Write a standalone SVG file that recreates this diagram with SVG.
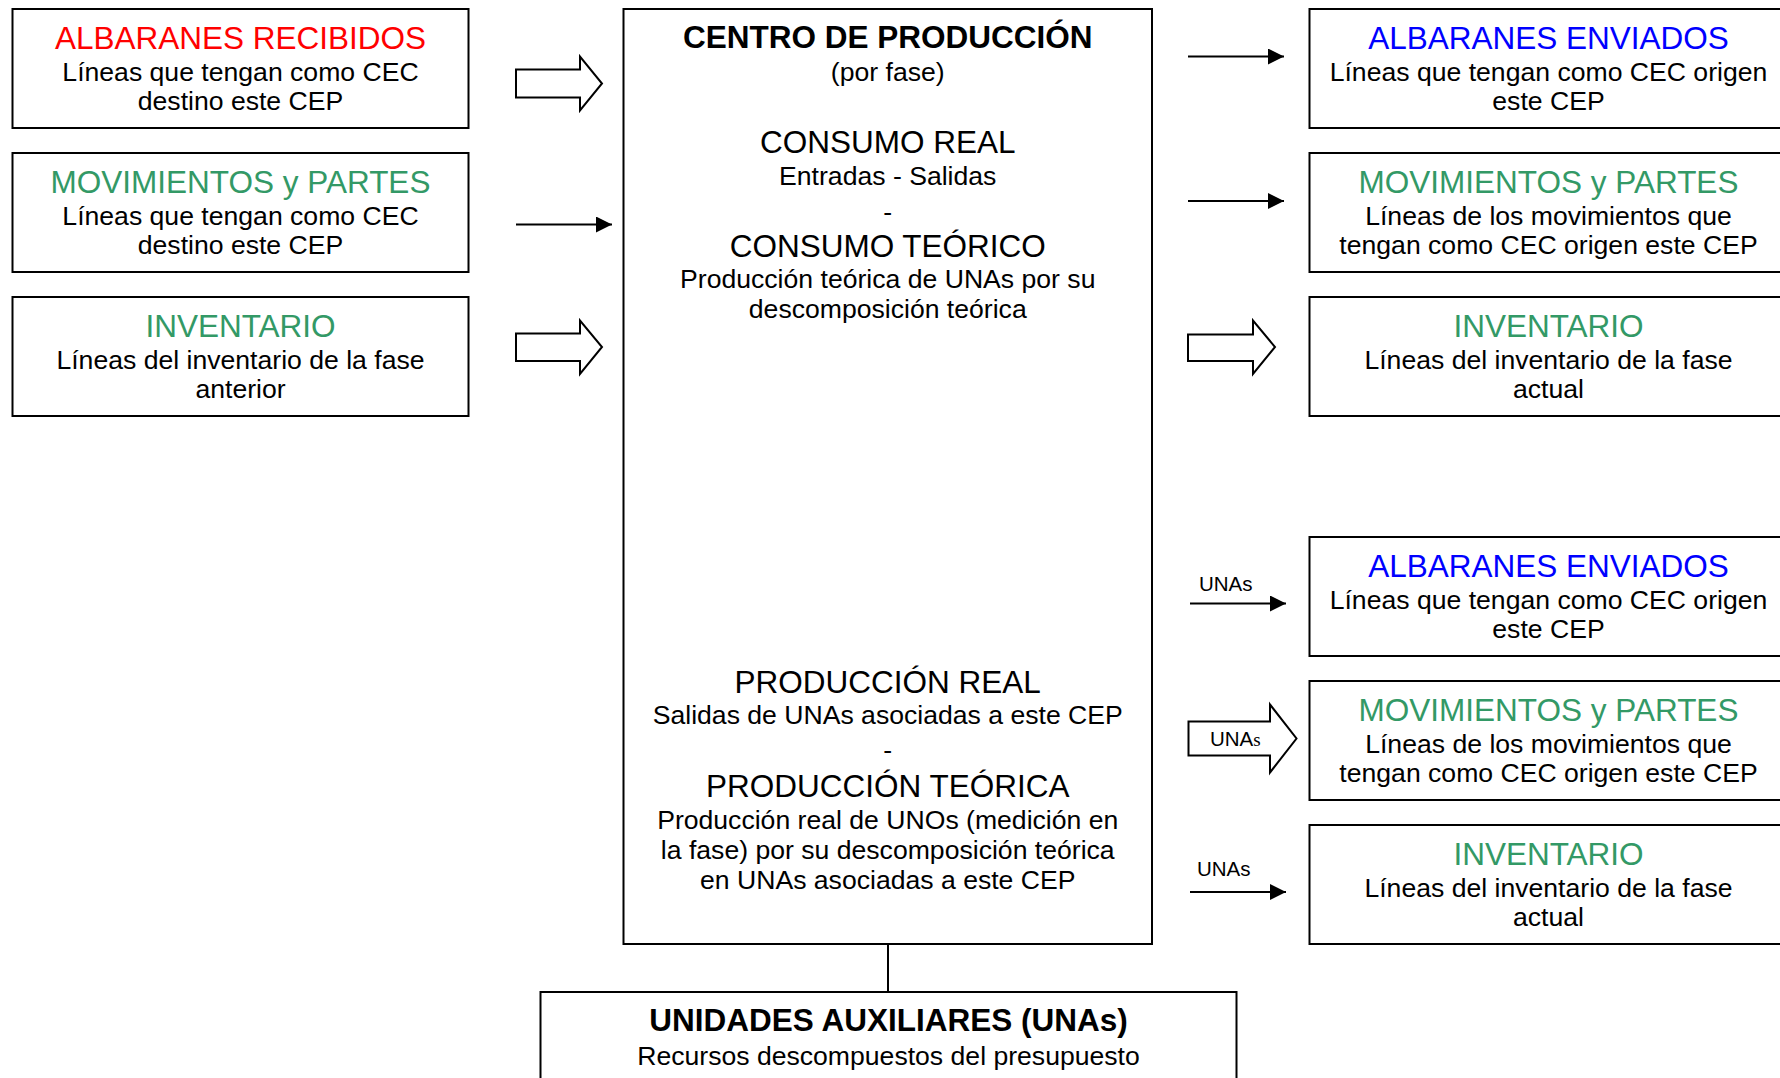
<svg xmlns="http://www.w3.org/2000/svg" width="1780" height="1078" viewBox="0 0 1780 1078">
<defs>
<style>
text{font-family:"Liberation Sans",Arial,sans-serif;text-anchor:middle;fill:#000}
.box{fill:#fff;stroke:#000;stroke-width:2}
.t{font-size:31.5px}
.b{font-size:26.6px}
.bold{font-weight:bold}
.red{fill:#ff0000}
.green{fill:#339966}
.blue{fill:#0000ff}
.lbl{font-size:20.5px;text-anchor:start}
.blk{fill:#fff;stroke:#000;stroke-width:2;stroke-linejoin:miter}
.ln{stroke:#000;stroke-width:2;fill:none}
</style>
<marker id="ah" markerWidth="8" markerHeight="8" refX="8" refY="4" orient="auto" markerUnits="strokeWidth">
<path d="M0,0 L8,4 L0,8 Z" fill="#000"/>
</marker>
</defs>
<rect width="1780" height="1078" fill="#fff"/>

<g id="albaranes-recibidos">
<rect class="box" x="12.5" y="9" width="456" height="119"/>
<text class="t red" x="240.5" y="49">ALBARANES RECIBIDOS</text>
<text class="b" x="240.5" y="81">Líneas que tengan como CEC</text>
<text class="b" x="240.5" y="110">destino este CEP</text>
</g>
<g id="movimientos-entrada">
<rect class="box" x="12.5" y="153" width="456" height="119"/>
<text class="t green" x="240.5" y="193">MOVIMIENTOS y PARTES</text>
<text class="b" x="240.5" y="225">Líneas que tengan como CEC</text>
<text class="b" x="240.5" y="254">destino este CEP</text>
</g>
<g id="inventario-anterior">
<rect class="box" x="12.5" y="297" width="456" height="119"/>
<text class="t green" x="240.5" y="337">INVENTARIO</text>
<text class="b" x="240.5" y="369">Líneas del inventario de la fase</text>
<text class="b" x="240.5" y="398">anterior</text>
</g>

<g id="centro-produccion">
<rect class="box" x="623.5" y="9" width="528.5" height="935"/>
<text class="t bold" x="887.75" y="48">CENTRO DE PRODUCCIÓN</text>
<text class="b" x="887.75" y="81">(por fase)</text>
<text class="t" x="887.75" y="153">CONSUMO REAL</text>
<text class="b" x="887.75" y="185">Entradas - Salidas</text>
<text class="b" x="887.75" y="221">-</text>
<text class="t" x="887.75" y="257">CONSUMO TEÓRICO</text>
<text class="b" x="887.75" y="288">Producción teórica de UNAs por su</text>
<text class="b" x="887.75" y="318">descomposición teórica</text>
<text class="t" x="887.75" y="693">PRODUCCIÓN REAL</text>
<text class="b" x="887.75" y="724">Salidas de UNAs asociadas a este CEP</text>
<text class="b" x="887.75" y="759">-</text>
<text class="t" x="887.75" y="797">PRODUCCIÓN TEÓRICA</text>
<text class="b" x="887.75" y="829">Producción real de UNOs (medición en</text>
<text class="b" x="887.75" y="859">la fase) por su descomposición teórica</text>
<text class="b" x="887.75" y="889">en UNAs asociadas a este CEP</text>
</g>

<g id="unidades-auxiliares">
<rect class="box" x="540.5" y="992" width="696" height="110"/>
<text class="t bold" x="888.5" y="1031">UNIDADES AUXILIARES (UNAs)</text>
<text class="b" x="888.5" y="1065">Recursos descompuestos del presupuesto</text>
</g>

<g id="albaranes-enviados-1">
<rect class="box" x="1309.5" y="9" width="480" height="119"/>
<text class="t blue" x="1548.5" y="49">ALBARANES ENVIADOS</text>
<text class="b" x="1548.5" y="81">Líneas que tengan como CEC origen</text>
<text class="b" x="1548.5" y="110">este CEP</text>
</g>
<g id="movimientos-salida-1">
<rect class="box" x="1309.5" y="153" width="480" height="119"/>
<text class="t green" x="1548.5" y="193">MOVIMIENTOS y PARTES</text>
<text class="b" x="1548.5" y="225">Líneas de los movimientos que</text>
<text class="b" x="1548.5" y="254">tengan como CEC origen este CEP</text>
</g>
<g id="inventario-actual-1">
<rect class="box" x="1309.5" y="297" width="480" height="119"/>
<text class="t green" x="1548.5" y="337">INVENTARIO</text>
<text class="b" x="1548.5" y="369">Líneas del inventario de la fase</text>
<text class="b" x="1548.5" y="398">actual</text>
</g>

<g id="albaranes-enviados-2">
<rect class="box" x="1309.5" y="537" width="480" height="119"/>
<text class="t blue" x="1548.5" y="577">ALBARANES ENVIADOS</text>
<text class="b" x="1548.5" y="609">Líneas que tengan como CEC origen</text>
<text class="b" x="1548.5" y="638">este CEP</text>
</g>
<g id="movimientos-salida-2">
<rect class="box" x="1309.5" y="681" width="480" height="119"/>
<text class="t green" x="1548.5" y="721">MOVIMIENTOS y PARTES</text>
<text class="b" x="1548.5" y="753">Líneas de los movimientos que</text>
<text class="b" x="1548.5" y="782">tengan como CEC origen este CEP</text>
</g>
<g id="inventario-actual-2">
<rect class="box" x="1309.5" y="825" width="480" height="119"/>
<text class="t green" x="1548.5" y="865">INVENTARIO</text>
<text class="b" x="1548.5" y="897">Líneas del inventario de la fase</text>
<text class="b" x="1548.5" y="926">actual</text>
</g>

<g id="connectors">
<polygon class="blk" points="516,69.5 580,69.5 580,56.5 602,83.5 580,110.5 580,97.5 516,97.5"/>
<line class="ln" x1="516" y1="224.5" x2="612" y2="224.5" marker-end="url(#ah)"/>
<polygon class="blk" points="516,333.5 580,333.5 580,320.5 602,347 580,374 580,361 516,361"/>

<line class="ln" x1="1188" y1="56.5" x2="1284" y2="56.5" marker-end="url(#ah)"/>
<line class="ln" x1="1188" y1="201" x2="1284" y2="201" marker-end="url(#ah)"/>
<polygon class="blk" points="1188,334.5 1253,334.5 1253,320.5 1275,347 1253,374 1253,361 1188,361"/>

<text class="lbl" x="1199" y="591">UNAs</text>
<line class="ln" x1="1190" y1="603.5" x2="1286" y2="603.5" marker-end="url(#ah)"/>
<polygon class="blk" points="1188.5,721.5 1270,721.5 1270,704.5 1296.5,738.5 1270,772.5 1270,755.5 1188.5,755.5"/>
<text class="lbl" x="1210" y="746">UNA<tspan style="font-family:'Liberation Serif','Times New Roman',serif" font-size="19">s</tspan></text>
<text class="lbl" x="1197" y="876">UNAs</text>
<line class="ln" x1="1190" y1="892" x2="1286" y2="892" marker-end="url(#ah)"/>

<line class="ln" x1="888" y1="944" x2="888" y2="992"/>
</g>
</svg>
